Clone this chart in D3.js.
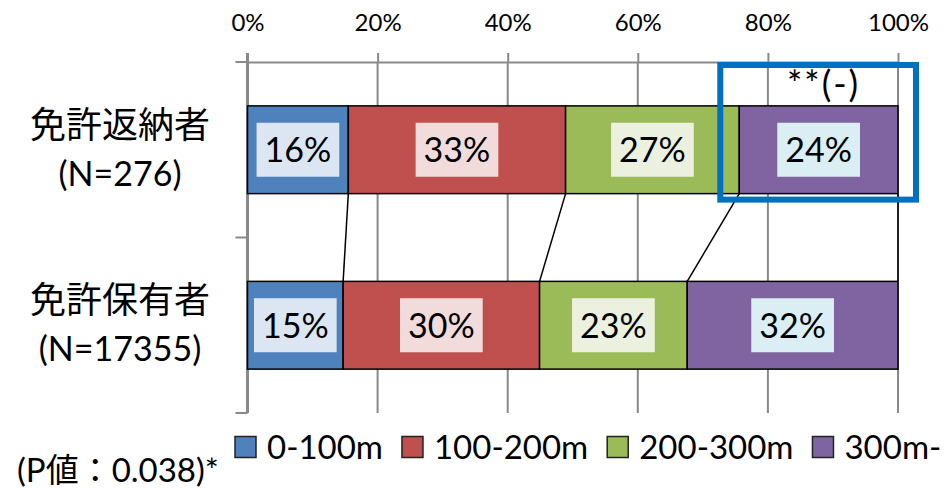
<!DOCTYPE html>
<html>
<head>
<meta charset="utf-8">
<script src="https://cdn.jsdelivr.net/npm/d3@7/dist/d3.min.js"></script>
<style>
  html, body { margin: 0; padding: 0; background: #fff; }
  svg { display: block; font-family: Lato, "Noto Sans CJK JP", sans-serif; font-feature-settings: "palt"; }
</style>
</head>
<body>
<div id="chart"></div>
<script>
// ── data ──────────────────────────────────────────────
const groups   = ["免許返納者", "免許保有者"];
const groupN   = ["(N=276)", "(N=17355)"];
const ranges   = ["0-100m", "100-200m", "200-300m", "300m-"];
const returned = [15.5, 33.4, 26.7, 24.4];   // 免許返納者 (%)
const holders  = [14.7, 30.2, 22.7, 32.4];   // 免許保有者 (%)
const xTicks   = [0, 20, 40, 60, 80, 100];
const pNote    = "(P値：0.038)*";
const sigMark  = "**(-)";

// ── look ──────────────────────────────────────────────
const FILL  = ["#4f81bd", "#c0504d", "#9bbb59", "#8064a2"];
const BOX   = ["#dce6f2", "#f2dcdb", "#ebf1de", "#dbeef4"];
const AXIS  = "#898989";
const W = 952, H = 489;

const svg = d3.select("#chart").append("svg").attr("width", W).attr("height", H);

const x = d3.scaleLinear().domain([0, 100]).range([247.5, 898]);
const y = d3.scaleBand().domain(groups).range([62, 413]).padding(0);
const barH = y.bandwidth() * 0.5;
const barTop = g => y(g) + (y.bandwidth() - barH) / 2;

// stacked rows
const rows = [returned, holders].map((vals, gi) => {
  let acc = 0;
  return vals.map((v, i) => {
    const seg = { g: groups[gi], i, v, x0: acc, x1: acc + v };
    acc += v;
    return seg;
  });
});

// ── gridlines + axes ─────────────────────────────────
svg.append("g").selectAll("line").data(xTicks.slice(1)).join("line")
  .attr("x1", d => x(d)).attr("x2", d => x(d))
  .attr("y1", y.range()[0]).attr("y2", y.range()[1])
  .attr("stroke", AXIS).attr("stroke-width", 2);

const topAxis = svg.append("g").attr("transform", `translate(0,${y.range()[0]})`)
  .call(d3.axisTop(x).tickValues(xTicks).tickFormat(d => d + "%").tickSize(9).tickSizeOuter(0));
topAxis.select(".domain").attr("stroke", AXIS).attr("stroke-width", 2);
topAxis.selectAll(".tick line").attr("stroke", AXIS).attr("stroke-width", 2);
topAxis.selectAll(".tick text").attr("font-size", 24).attr("fill", "#000")
  .attr("font-family", "Lato, 'Noto Sans CJK JP', sans-serif").attr("y", -40).attr("dy", "0.36em");

// left category axis (ticks on band boundaries)
const yEdges = groups.map(g => y(g)).concat([y.range()[1]]);
svg.append("line").attr("x1", x(0)).attr("x2", x(0))
  .attr("y1", y.range()[0] - 9).attr("y2", y.range()[1])
  .attr("stroke", AXIS).attr("stroke-width", 3);
svg.append("g").selectAll("line").data(yEdges).join("line")
  .attr("x1", x(0) - 12).attr("x2", x(0))
  .attr("y1", d => d).attr("y2", d => d)
  .attr("stroke", AXIS).attr("stroke-width", 2);

// ── series lines ─────────────────────────────────────
svg.append("g").selectAll("line").data(rows[0].map((s, i) => [s.x1, rows[1][i].x1])).join("line")
  .attr("x1", d => x(d[0])).attr("y1", barTop(groups[0]) + barH)
  .attr("x2", d => x(d[1])).attr("y2", barTop(groups[1]))
  .attr("stroke", "#000").attr("stroke-width", 1.5);

// ── bars ─────────────────────────────────────────────
const segs = rows.flat();
svg.append("g").selectAll("rect").data(segs).join("rect")
  .attr("x", d => x(d.x0)).attr("width", d => x(d.x1) - x(d.x0))
  .attr("y", d => barTop(d.g)).attr("height", barH)
  .attr("fill", d => FILL[d.i]).attr("stroke", "#000").attr("stroke-width", 1.5);

// data labels with light boxes
const lab = svg.append("g").selectAll("g").data(segs).join("g")
  .attr("transform", d => `translate(${x((d.x0 + d.x1) / 2)},${barTop(d.g) + barH / 2})`);
lab.append("rect").attr("fill", d => BOX[d.i]);
lab.append("text").attr("text-anchor", "middle").attr("dy", "0.36em")
  .attr("font-size", 34).attr("fill", "#000")
  .text(d => d3.format(".0f")(d.v) + "%");
lab.each(function() {
  const t = d3.select(this).select("text").node().getComputedTextLength();
  d3.select(this).select("rect")
    .attr("x", -t / 2 - 8).attr("width", t + 16)
    .attr("y", -27).attr("height", 54);
});

// ── category labels ──────────────────────────────────
const cat = svg.append("g").selectAll("g").data(groups).join("g")
  .attr("transform", g => `translate(120,${y(g) + y.bandwidth() / 2})`);
cat.append("text").attr("text-anchor", "middle").attr("y", -25).attr("dy", "0.36em")
  .attr("font-size", 36).attr("font-family", "'Noto Sans CJK JP', sans-serif")
  .text(g => g);
cat.append("text").attr("text-anchor", "middle").attr("y", 24).attr("dy", "0.36em")
  .attr("font-size", 34).text((g, i) => groupN[i]);

// ── significance highlight ───────────────────────────
const hl = rows[0][3];
svg.append("rect")
  .attr("x", x(hl.x0) - 19).attr("width", x(100) + 18 - (x(hl.x0) - 19))
  .attr("y", y(groups[0]) + 3).attr("height", barTop(groups[0]) + barH + 6 - (y(groups[0]) + 3))
  .attr("fill", "none").attr("stroke", "#0070c0").attr("stroke-width", 6);
svg.append("text").attr("x", x((hl.x0 + hl.x1) / 2) + 5).attr("y", 84).attr("dy", "0.36em")
  .attr("text-anchor", "middle").attr("font-size", 36).attr("letter-spacing", 2)
  .text(sigMark);

// ── legend ───────────────────────────────────────────
const leg = svg.append("g").attr("transform", "translate(235,447)");
let lx = 0;
ranges.forEach((r, i) => {
  const it = leg.append("g").attr("transform", `translate(${lx},0)`);
  it.append("rect").attr("x", 0).attr("y", -10.5).attr("width", 21).attr("height", 21)
    .attr("fill", FILL[i]).attr("stroke", "#222").attr("stroke-width", 1.5);
  const t = it.append("text").attr("x", 32).attr("dy", "0.36em").attr("font-size", 33).text(r);
  lx += 32 + t.node().getComputedTextLength() + 19;
});

svg.append("text").attr("x", 17).attr("y", 470).attr("dy", "0.36em")
  .attr("font-size", 33).attr("font-family", "Lato, 'Noto Sans CJK JP', sans-serif")
  .style("font-feature-settings", "normal")
  .text(pNote);
</script>
</body>
</html>
